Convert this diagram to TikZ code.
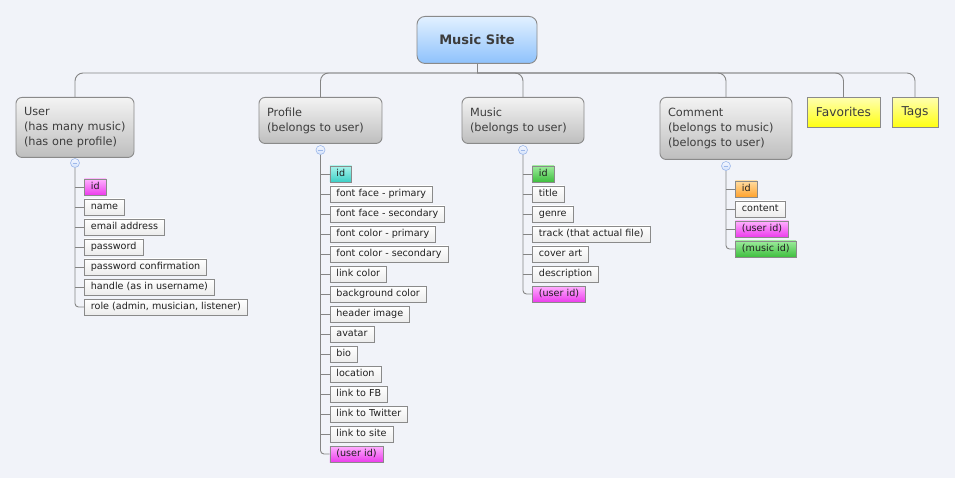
\documentclass[tikz,border=0pt]{standalone}
\usepackage{fontspec}
\setmainfont{DejaVu Sans}
\definecolor{bgcol}{HTML}{F1F3F9}
\definecolor{linecol}{HTML}{858585}
\definecolor{boxline}{HTML}{8A8A8A}
\definecolor{txtmain}{HTML}{3C3C3C}
\definecolor{rootA}{HTML}{E2F0FF}
\definecolor{rootB}{HTML}{8EC2FC}
\definecolor{grayA}{HTML}{F3F3F3}
\definecolor{grayB}{HTML}{BEBEBE}
\definecolor{yelA}{HTML}{FFFFB0}
\definecolor{yelB}{HTML}{FFFF10}
\definecolor{magA}{HTML}{FFB0FF}
\definecolor{magB}{HTML}{EC3CEC}
\definecolor{cyaA}{HTML}{A8F4EC}
\definecolor{cyaB}{HTML}{3CCFC6}
\definecolor{grnA}{HTML}{9CEC9C}
\definecolor{grnB}{HTML}{3EBE3E}
\definecolor{orgA}{HTML}{FFDCA0}
\definecolor{orgB}{HTML}{FFA22E}
\definecolor{whtB}{HTML}{ECECEC}
\definecolor{colA}{HTML}{F4F7FF}
\definecolor{colB}{HTML}{D3E1FA}
\definecolor{colD}{HTML}{9DB8EA}
\tikzset{
  conn/.style={draw=linecol, line width=0.9pt},
  rootbox/.style={draw=boxline, line width=0.9pt, rounded corners=8pt, top color=rootA, bottom color=rootB,
    minimum width=120pt, minimum height=47pt, inner sep=0pt, text=txtmain, font=\fontsize{13}{15}\selectfont\bfseries},
  mainbox/.style={draw=boxline, line width=0.9pt, rounded corners=6pt, top color=grayA, bottom color=grayB,
    inner xsep=8pt, inner ysep=0pt, align=left, text=txtmain, font=\fontsize{11.3}{15}\selectfont},
  yelbox/.style={draw=boxline, line width=0.9pt, top color=yelA, bottom color=yelB, minimum height=30pt,
    inner sep=0pt, text=txtmain, font=\fontsize{12.2}{15}\selectfont},
  leaf/.style={draw=boxline, line width=0.8pt, top color=white, bottom color=whtB, minimum height=16pt,
    inner xsep=6.5pt, inner ysep=0pt, text height=0.74em, text depth=0.2em, text=black!88,
    font=\fontsize{9.6}{11}\selectfont, anchor=west},
  leafm/.style={leaf, top color=magA, bottom color=magB},
  leafc/.style={leaf, top color=cyaA, bottom color=cyaB},
  leafg/.style={leaf, top color=grnA, bottom color=grnB},
  leafo/.style={leaf, top color=orgA, bottom color=orgB},
  collapse/.style={circle, draw=colD, line width=0.6pt, top color=colA, bottom color=colB, minimum size=9pt, inner sep=0pt,
    path picture={\draw[colD, line width=0.8pt] ([xshift=-2.4pt]path picture bounding box.center) -- ([xshift=2.4pt]path picture bounding box.center);}},
  twig/.style={conn, rounded corners=3.5pt},
}
\begin{document}
\begin{tikzpicture}[x=1pt,y=-1pt]
\fill[bgcol] (0,0) rectangle (955,478);
\useasboundingbox (0,0) rectangle (955,478);

% root
\node[rootbox, anchor=north] (root) at (477,16) {Music Site};

% main topics
\node[mainbox, anchor=north, text width=102pt, minimum height=60pt] (user) at (75,97)
  {User\\(has many music)\\(has one profile)};
\node[mainbox, anchor=north, text width=107pt, minimum height=46pt] (profile) at (320.5,97)
  {Profile\\(belongs to user)};
\node[mainbox, anchor=north, text width=106pt, minimum height=46pt] (music) at (523,97)
  {Music\\(belongs to user)};
\node[mainbox, anchor=north, text width=116pt, minimum height=62pt] (comment) at (726,97)
  {Comment\\(belongs to music)\\(belongs to user)};
\node[yelbox, anchor=north, minimum width=73pt] (fav) at (843.5,97) {Favorites};
\node[yelbox, anchor=north, minimum width=46pt] (tags) at (915,97) {Tags};

% bus
\draw[conn] (root.south) -- (477,73) coordinate (bus);
\foreach \n in {user,profile,music,comment,fav,tags}
  \draw[conn, rounded corners=8pt] (bus) -| (\n.north);

% collapse markers
\node[collapse] (uc) at (75,163) {};
\node[collapse] (pc) at (320.5,150) {};
\node[collapse] (mc) at (523,150) {};
\node[collapse] (cc) at (726,166) {};

% user leaves
\node[leafm] (u1) at (84,187) {id};
\node[leaf] (u2) at (84,207) {name};
\node[leaf] (u3) at (84,227) {email address};
\node[leaf] (u4) at (84,247) {password};
\node[leaf] (u5) at (84,267) {password confirmation};
\node[leaf] (u6) at (84,287) {handle (as in username)};
\node[leaf] (u7) at (84,307) {role (admin, musician, listener)};
\draw[twig] (uc.south) |- (u7.west);
\foreach \i in {1,...,6} \draw[conn] (uc.south |- u\i.west) -- (u\i.west);

% profile leaves
\node[leafc] (p1) at (329.5,174) {id};
\node[leaf] (p2) at (329.5,194) {font face - primary};
\node[leaf] (p3) at (329.5,214) {font face - secondary};
\node[leaf] (p4) at (329.5,234) {font color - primary};
\node[leaf] (p5) at (329.5,254) {font color - secondary};
\node[leaf] (p6) at (329.5,274) {link color};
\node[leaf] (p7) at (329.5,294) {background color};
\node[leaf] (p8) at (329.5,314) {header image};
\node[leaf] (p9) at (329.5,334) {avatar};
\node[leaf] (p10) at (329.5,354) {bio};
\node[leaf] (p11) at (329.5,374) {location};
\node[leaf] (p12) at (329.5,394) {link to FB};
\node[leaf] (p13) at (329.5,414) {link to Twitter};
\node[leaf] (p14) at (329.5,434) {link to site};
\node[leafm] (p15) at (329.5,454) {(user id)};
\draw[twig] (pc.south) |- (p15.west);
\foreach \i in {1,...,14} \draw[conn] (pc.south |- p\i.west) -- (p\i.west);

% music leaves
\node[leafg] (m1) at (532,174) {id};
\node[leaf] (m2) at (532,194) {title};
\node[leaf] (m3) at (532,214) {genre};
\node[leaf] (m4) at (532,234) {track (that actual file)};
\node[leaf] (m5) at (532,254) {cover art};
\node[leaf] (m6) at (532,274) {description};
\node[leafm] (m7) at (532,294) {(user id)};
\draw[twig] (mc.south) |- (m7.west);
\foreach \i in {1,...,6} \draw[conn] (mc.south |- m\i.west) -- (m\i.west);

% comment leaves
\node[leafo] (c1) at (735,189) {id};
\node[leaf] (c2) at (735,209) {content};
\node[leafm] (c3) at (735,229) {(user id)};
\node[leafg] (c4) at (735,249) {(music id)};
\draw[twig] (cc.south) |- (c4.west);
\foreach \i in {1,...,3} \draw[conn] (cc.south |- c\i.west) -- (c\i.west);
\end{tikzpicture}
\end{document}
